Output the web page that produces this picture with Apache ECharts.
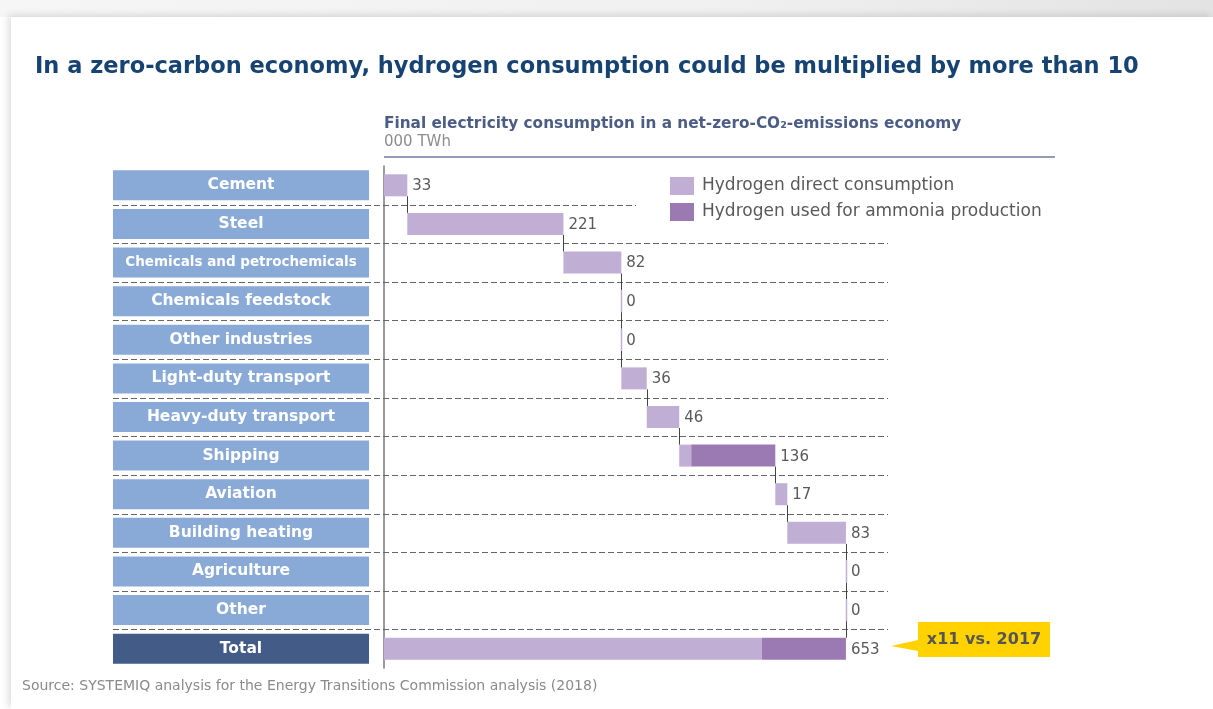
<!DOCTYPE html>
<html>
<head>
<meta charset="utf-8">
<script src="https://cdn.jsdelivr.net/npm/echarts@6/dist/echarts.min.js"></script>
<style>
  html, body { margin: 0; padding: 0; background: #fff; }
  .topbar { position: absolute; left: 0; top: 0; width: 1213px; height: 17px;
    background: linear-gradient(to right, #f6f6f6 0%, #f0f0f0 60%, #e3e3e3 100%); }
  .card { position: absolute; left: 11px; top: 17px; width: 1202px; height: 692px; background: #fff;
    box-shadow: -3px -2px 7px rgba(0, 0, 0, 0.13); }
  #chart { position: absolute; left: 0; top: 0; width: 1213px; height: 709px; }
</style>
</head>
<body>
<div class="topbar"></div>
<div class="card"></div>
<div id="chart"></div>
<script>
// categories and values (000 TWh)
const categories = ['Cement', 'Steel', 'Chemicals and petrochemicals', 'Chemicals feedstock', 'Other industries',
  'Light-duty transport', 'Heavy-duty transport', 'Shipping', 'Aviation', 'Building heating',
  'Agriculture', 'Other', 'Total']
const directValues = [33, 221, 82, 0, 0, 36, 46, 17, 17, 83, 0, 0]
const ammoniaValues = [0, 0, 0, 0, 0, 0, 0, 119, 0, 0, 0, 0]
const labelValues = [33, 221, 82, 0, 0, 36, 46, 136, 17, 83, 0, 0, 653]

const lightPurple = '#c1aed4'
const darkPurple = '#9b7ab4'
const n = categories.length

// waterfall: invisible base + two stacked parts, last row is the total
let baseData = [], directData = [], ammoniaData = [], ends = []
let run = 0, sumDirect = 0, sumAmmonia = 0
for (let i = 0; i < n - 1; i++) {
  baseData.push(run)
  directData.push(directValues[i])
  ammoniaData.push(ammoniaValues[i])
  run += directValues[i] + ammoniaValues[i]
  sumDirect += directValues[i]
  sumAmmonia += ammoniaValues[i]
  ends.push(run)
}
baseData.push(0)
directData.push(sumDirect)
ammoniaData.push(sumAmmonia)
ends.push(sumDirect + sumAmmonia)

const decoData = ends.map((e, i) => [e, i])

function renderDeco(params, api) {
  const i = api.value(1)
  const p = api.coord([api.value(0), i])
  const band = api.size([0, 1])[1]
  const half = 11
  const x = Math.round(p[0]) + 0.5
  let children = []
  if (i < n - 1) {
    const ys = Math.round(p[1] + band / 2) + 0.5
    children.push({
      type: 'line',
      shape: {x1: 113, y1: ys, x2: i === 0 ? 636 : 888, y2: ys},
      style: {stroke: '#666', lineWidth: 1, lineDash: [6, 3]}
    })
    children.push({
      type: 'line',
      shape: {x1: x, y1: p[1] + half, x2: x, y2: p[1] + band - half},
      style: {stroke: '#444', lineWidth: 1}
    })
  }
  if (labelValues[i] === 0) {
    children.push({
      type: 'line',
      shape: {x1: x, y1: p[1] - half, x2: x, y2: p[1] + half},
      style: {stroke: lightPurple, lineWidth: 1.5}
    })
  }
  children.push({
    type: 'text',
    x: p[0] + 5,
    y: p[1] + 1,
    style: {text: String(labelValues[i]), fill: '#595959', fontSize: 15, fontFamily: 'DejaVu Sans',
      verticalAlign: 'middle', align: 'left'}
  })
  return {type: 'group', children: children}
}

const boxStyle = {width: 256, height: 30, lineHeight: 30, align: 'center', color: '#fff',
  fontWeight: 'bold', fontSize: 15.5, fontFamily: 'DejaVu Sans'}

let option = {
  animation: false,
  title: [
    {
      text: 'In a zero-carbon economy, hydrogen consumption could be multiplied by more than 10',
      left: 35, top: 56, padding: 0,
      textStyle: {color: '#174372', fontSize: 22.5, fontWeight: 'bold', fontFamily: 'DejaVu Sans'}
    },
    {
      text: 'Final electricity consumption in a net-zero-CO₂-emissions economy',
      left: 384, top: 117, padding: 0,
      textStyle: {color: '#4b5d85', fontSize: 15.3, fontWeight: 'bold', fontFamily: 'DejaVu Sans'}
    },
    {
      text: '000 TWh',
      left: 384, top: 135, padding: 0,
      textStyle: {color: '#8c8c8c', fontSize: 15, fontWeight: 'normal', fontFamily: 'DejaVu Sans'}
    }
  ],
  legend: {
    data: ['Hydrogen direct consumption', 'Hydrogen used for ammonia production'],
    orient: 'vertical',
    left: 670, top: 177, padding: 0,
    itemWidth: 24, itemHeight: 18, itemGap: 8,
    icon: 'rect',
    textStyle: {color: '#595959', fontSize: 17, fontFamily: 'DejaVu Sans', padding: [2, 0, 0, 3]}
  },
  grid: {left: 384, top: 166, width: 671, height: 502},
  xAxis: {type: 'value', min: 0, max: 950, show: false},
  yAxis: {
    type: 'category',
    inverse: true,
    data: categories,
    axisLine: {show: true, lineStyle: {color: '#7a7a7a', width: 1.5}},
    axisTick: {show: false},
    splitLine: {show: false},
    axisLabel: {
      margin: 15,
      formatter(v) {
        if (v === 'Total') return '{t|' + v + '}'
        if (v === 'Chemicals and petrochemicals') return '{s|' + v + '}'
        return '{a|' + v + '}'
      },
      rich: {
        a: Object.assign({}, boxStyle, {backgroundColor: '#89a9d7'}),
        s: Object.assign({}, boxStyle, {backgroundColor: '#89a9d7', fontSize: 13.5}),
        t: Object.assign({}, boxStyle, {backgroundColor: '#435b87'})
      }
    }
  },
  series: [
    {
      name: 'base', type: 'bar', stack: 'w', silent: true, barWidth: 22,
      itemStyle: {color: 'transparent'}, data: baseData
    },
    {
      name: 'Hydrogen direct consumption', type: 'bar', stack: 'w', barWidth: 22,
      itemStyle: {color: lightPurple}, data: directData
    },
    {
      name: 'Hydrogen used for ammonia production', type: 'bar', stack: 'w', barWidth: 22,
      itemStyle: {color: darkPurple}, data: ammoniaData
    },
    {
      name: 'deco', type: 'custom', clip: false, silent: true,
      renderItem: renderDeco, data: decoData, z: 5
    }
  ],
  graphic: [
    {type: 'line', shape: {x1: 384, y1: 157, x2: 1055, y2: 157}, style: {stroke: '#6c7c9c', lineWidth: 1.5}},
    {type: 'polygon', shape: {points: [[891, 646], [918, 640], [918, 622], [1050, 622], [1050, 657], [918, 657], [918, 651]]},
      style: {fill: '#ffd200'}},
    {type: 'text', x: 984, y: 640, style: {text: 'x11 vs. 2017', fill: '#555', fontSize: 16, fontWeight: 'bold',
      fontFamily: 'DejaVu Sans', align: 'center', verticalAlign: 'middle'}},
    {type: 'text', x: 22, y: 686, style: {text: 'Source: SYSTEMIQ analysis for the Energy Transitions Commission analysis (2018)',
      fill: '#8a8a8a', fontSize: 14, fontFamily: 'DejaVu Sans', verticalAlign: 'middle'}}
  ]
}

const chart = echarts.init(document.getElementById('chart'))
chart.setOption(option)
</script>
</body>
</html>
